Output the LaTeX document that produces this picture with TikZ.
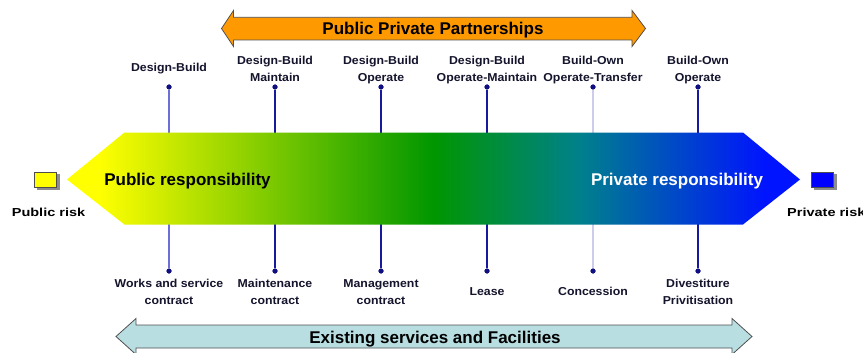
\documentclass[tikz,border=0pt]{standalone}
\usepackage{fontspec}
\setmainfont{Liberation Sans}
\newfontfamily\lblfont[FakeStretch=1.07]{Liberation Sans}
\newfontfamily\riskfont[FakeStretch=1.25]{Liberation Sans}
\definecolor{labelcol}{RGB}{20,20,45}
\definecolor{stemdark}{RGB}{25,25,160}
\definecolor{stemmid}{RGB}{110,110,215}
\definecolor{stemlight}{RGB}{205,205,235}
\definecolor{dotcol}{RGB}{15,15,130}
\definecolor{pppfill}{RGB}{255,153,0}
\definecolor{esfill}{RGB}{184,222,226}
\definecolor{edgecol}{RGB}{80,80,80}
\definecolor{ryellow}{RGB}{255,255,0}
\definecolor{rgreen}{RGB}{0,150,0}
\definecolor{rteal}{RGB}{0,128,140}
\definecolor{rblue}{RGB}{0,20,255}
\definecolor{pubsq}{RGB}{255,255,0}
\definecolor{privsq}{RGB}{0,0,255}
\pgfdeclarehorizontalshading{respshade}{100bp}{color(0bp)=(ryellow); color(27.2bp)=(ryellow); color(50bp)=(rgreen); color(60bp)=(rteal); color(72.6bp)=(rblue); color(100bp)=(rblue)}
\tikzset{
  lbl/.style={font=\lblfont\bfseries\fontsize{11.5}{17}\selectfont, text=labelcol, align=center, inner sep=0pt},
  risklbl/.style={font=\riskfont\bfseries\fontsize{11.6}{14}\selectfont, text=black, inner sep=0pt},
  biglbl/.style={font=\bfseries\fontsize{17}{20}\selectfont, inner sep=0pt},
  stemdot/.style={circle, fill=dotcol, inner sep=0pt, minimum size=5pt},
  stemline/.style={line width=1.3pt},
  banner/.style={draw=edgecol, line width=0.8pt, line join=miter},
  risksq/.style={draw=black!70, line width=0.8pt, minimum width=22pt, minimum height=15pt, inner sep=0pt},
}
\begin{document}
\begin{tikzpicture}[x=1pt, y=-1pt]
\useasboundingbox (0,0) rectangle (863,353);
\fill[white] (0,0) rectangle (863,353);

% stems with dots
\foreach \i/\x/\c in {1/169/stemmid, 2/275/stemdark, 3/381/stemdark, 4/487/stemdark, 5/593/stemlight, 6/698/stemdark}{
  \node[stemdot] (t\i) at (\x,87) {};
  \node[stemdot] (b\i) at (\x,271) {};
  \draw[stemline, \c] (t\i) -- (b\i);
}
\foreach \i in {1,...,6}{
  \node[stemdot] at (t\i) {};
  \node[stemdot] at (b\i) {};
}

% big gradient arrow
\shade[shading=respshade] (67,179.5) -- (124.5,132.5) -- (743,132.5) -- (800,179.5) -- (743,224.5) -- (124.5,224.5) -- cycle;
\node[biglbl, text=black, anchor=base] (pubresp) at (187.5,185) {Public responsibility};
\node[biglbl, text=white, anchor=base] (privresp) at (677,185.5) {Private responsibility};

% top PPP arrow
\draw[banner, fill=pppfill] (221.5,28.5) -- (233.5,10.5) -- (233.5,17.3) -- (632,17.3) -- (632,10.5) -- (645.5,28.5) -- (632,46.5) -- (632,40) -- (233.5,40) -- (233.5,46.5) -- cycle;
\node[biglbl, text=black, anchor=base] (ppp) at (433,35) {Public Private Partnerships};

% bottom existing services arrow
\draw[banner, fill=esfill] (116,336.5) -- (136,318.5) -- (136,325) -- (732,325) -- (732,318.5) -- (752,336.5) -- (732,354.5) -- (732,348) -- (136,348) -- (136,354.5) -- cycle;
\node[biglbl, text=black, anchor=base] (exist) at (435,343) {Existing services and Facilities};

% top labels (base = baseline of last line)
\node[lbl, anchor=base] (l1) at (169,72) {Design-Build};
\node[lbl, anchor=base] (l2) at (275,81.5) {Design-Build\\Maintain};
\node[lbl, anchor=base] (l3) at (381,81.5) {Design-Build\\Operate};
\node[lbl, anchor=base] (l4) at (487,81.5) {Design-Build\\Operate-Maintain};
\node[lbl, anchor=base] (l5) at (593,81.5) {Build-Own\\Operate-Transfer};
\node[lbl, anchor=base] (l6) at (698,81.5) {Build-Own\\Operate};

% bottom labels
\node[lbl, anchor=base] (m1) at (169,304.5) {Works and service\\contract};
\node[lbl, anchor=base] (m2) at (275,304.5) {Maintenance\\contract};
\node[lbl, anchor=base] (m3) at (381,304.5) {Management\\contract};
\node[lbl, anchor=base] (m4) at (487,295.5) {Lease};
\node[lbl, anchor=base] (m5) at (593,295.5) {Concession};
\node[lbl, anchor=base] (m6) at (698,304.5) {Divestiture\\Privitisation};

% risk squares
\fill[black!45] (36.5,174) rectangle (59.5,190);
\node[risksq, fill=pubsq] (pubsq) at (45.5,180) {};
\node[risklbl, anchor=base] (pubrisk) at (48.5,216) {Public risk};
\fill[black!45] (813.5,174) rectangle (836.5,190);
\node[risksq, fill=privsq] (privsq) at (822.5,180) {};
\node[risklbl, anchor=base west] (privrisk) at (787,216) {Private risk};
\end{tikzpicture}
\end{document}
